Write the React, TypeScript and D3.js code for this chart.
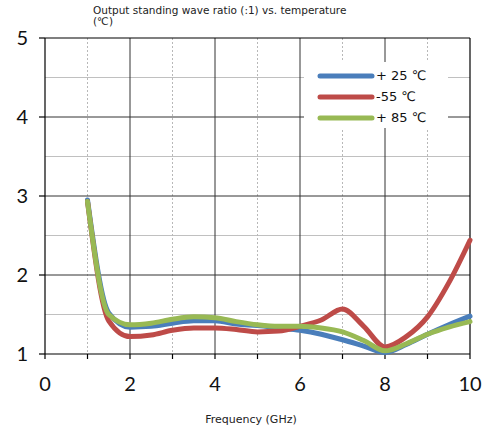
import React from "react";
import * as d3 from "d3";

const freqs = [1, 1.5, 2, 2.5, 3, 3.5, 4, 4.5, 5, 5.5, 6, 6.5, 7, 7.5, 8, 8.5, 9, 9.5, 10];
const blue25 = [2.95, 1.52, 1.34, 1.35, 1.39, 1.42, 1.42, 1.38, 1.36, 1.33, 1.3, 1.25, 1.18, 1.1, 1.02, 1.12, 1.25, 1.37, 1.48];
const redM55 = [2.93, 1.42, 1.22, 1.24, 1.3, 1.33, 1.33, 1.31, 1.28, 1.29, 1.35, 1.43, 1.57, 1.35, 1.09, 1.22, 1.47, 1.9, 2.44];
const green85 = [2.93, 1.5, 1.37, 1.39, 1.44, 1.47, 1.46, 1.41, 1.37, 1.35, 1.35, 1.33, 1.28, 1.17, 1.04, 1.13, 1.25, 1.34, 1.41];
const seriesNames = ["+ 25 ℃", "-55 ℃", "+ 85 ℃"];
const seriesColors = ["#4a7ebb", "#be4b48", "#98b954"];
const xTicks = [0, 2, 4, 6, 8, 10];
const yTicks = [1, 2, 3, 4, 5];

export default function App() {
  const W = 489, H = 432;
  const x = d3.scaleLinear().domain([0, 10]).range([45, 470]);
  const y = d3.scaleLinear().domain([1, 5]).range([354, 38]);
  const line = d3
    .line<number>()
    .x((_, i) => x(freqs[i]))
    .y((d) => y(d))
    .curve(d3.curveMonotoneX);
  const data = [blue25, redM55, green85];
  const minorX = d3.range(1, 10, 2);
  const majorX = [2, 4, 6, 8];
  const minorY = [1.5, 2.5, 3.5, 4.5];
  const majorY = [2, 3, 4];
  const allX = d3.range(0, 11);
  return (
    <svg width={W} height={H} style={{ position: "absolute", left: 0, top: 0 }}>
      <rect width={W} height={H} fill="#fff" />
      <text x={93} y={14} fontFamily="DejaVu Sans" fontSize={10.5} fill="#222">
        Output standing wave ratio (:1) vs. temperature
      </text>
      <text x={93} y={25} fontFamily="DejaVu Sans" fontSize={10.5} fill="#222">
        (℃)
      </text>
      {minorY.map((v) => (
        <line key={"my" + v} x1={x(0)} x2={x(10)} y1={y(v)} y2={y(v)} stroke="#c0c0c0" strokeWidth={1.2} />
      ))}
      {minorX.map((v) => (
        <line key={"mx" + v} x1={x(v)} x2={x(v)} y1={y(5)} y2={y(1)} stroke="#b8b8b8" strokeWidth={1} strokeDasharray="2,2" />
      ))}
      {majorY.map((v) => (
        <line key={"My" + v} x1={x(0)} x2={x(10)} y1={y(v)} y2={y(v)} stroke="#333" strokeWidth={1} />
      ))}
      {majorX.map((v) => (
        <line key={"Mx" + v} x1={x(v)} x2={x(v)} y1={y(5)} y2={y(1)} stroke="#333" strokeWidth={1} />
      ))}
      <line x1={x(0)} x2={x(10)} y1={y(5)} y2={y(5)} stroke="#000" strokeWidth={1.2} />
      <line x1={x(10)} x2={x(10)} y1={y(5)} y2={y(1)} stroke="#000" strokeWidth={1.2} />
      <line x1={x(0)} x2={x(0)} y1={y(5)} y2={y(1)} stroke="#000" strokeWidth={1.2} />
      <line x1={x(0)} x2={x(10)} y1={y(1)} y2={y(1)} stroke="#000" strokeWidth={1.2} />
      {yTicks.map((v) => (
        <g key={"yt" + v}>
          <line x1={x(0) - 6} x2={x(0)} y1={y(v)} y2={y(v)} stroke="#000" strokeWidth={1.2} />
          <text x={28} y={y(v) + 7} textAnchor="end" fontFamily="Lato" fontSize={20} fill="#111">
            {v}
          </text>
        </g>
      ))}
      {allX.map((v) => (
        <line key={"xt" + v} x1={x(v)} x2={x(v)} y1={y(1)} y2={y(1) + 5} stroke="#000" strokeWidth={1.2} />
      ))}
      {xTicks.map((v) => (
        <text key={"xl" + v} x={x(v)} y={391} textAnchor="middle" fontFamily="Lato" fontSize={20} fill="#111">
          {v}
        </text>
      ))}
      {data.map((d, i) => (
        <path key={"s" + i} d={line(d) || ""} fill="none" stroke={seriesColors[i]} strokeWidth={5} strokeLinecap="round" strokeLinejoin="round" />
      ))}
      <rect x={304} y={62} width={144} height={66} fill="#fff" />
      {seriesNames.map((n, i) => {
        const ly = 76 + i * 21;
        return (
          <g key={"lg" + i}>
            <line x1={320} x2={372} y1={ly} y2={ly} stroke={seriesColors[i]} strokeWidth={5} strokeLinecap="round" />
            <text x={376} y={ly + 4} fontFamily="DejaVu Sans" fontSize={13} fill="#111">
              {n}
            </text>
          </g>
        );
      })}
      <text x={251} y={423} textAnchor="middle" fontFamily="DejaVu Sans" fontSize={11} fill="#222">
        Frequency (GHz)
      </text>
    </svg>
  );
}
